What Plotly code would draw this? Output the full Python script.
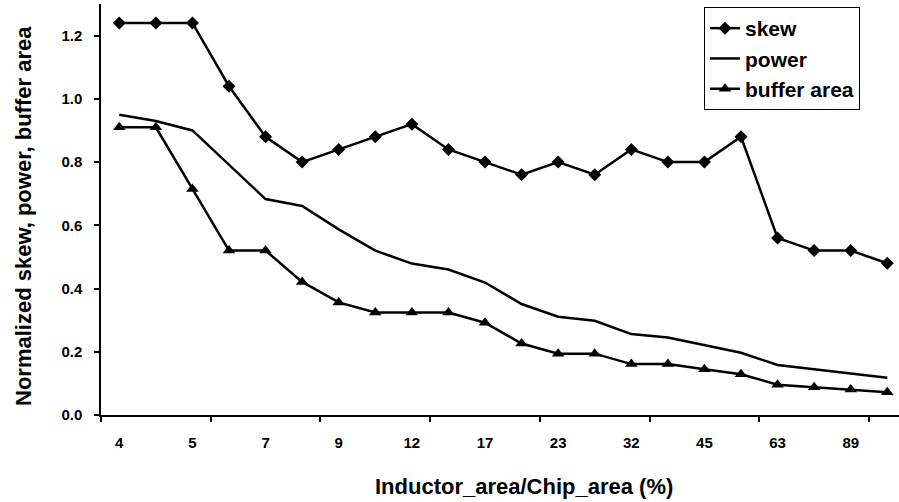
import plotly.graph_objects as go

# ---- data ----
x_labels = ["4", "5", "7", "9", "12", "17", "23", "32", "45", "63", "89"]

skew = [1.24, 1.24, 1.24, 1.04, 0.88, 0.80, 0.84, 0.88, 0.92, 0.84, 0.80,
        0.76, 0.80, 0.76, 0.84, 0.80, 0.80, 0.88, 0.56, 0.52, 0.52, 0.48]
power = [0.95, 0.93, 0.90, 0.79, 0.683, 0.661, 0.587, 0.52, 0.479, 0.46, 0.419,
         0.351, 0.311, 0.298, 0.256, 0.245, 0.221, 0.197, 0.158, 0.144, 0.130, 0.118]
buffer_area = [0.91, 0.91, 0.715, 0.52, 0.52, 0.421, 0.356, 0.324, 0.324, 0.324, 0.292,
               0.226, 0.194, 0.194, 0.161, 0.161, 0.145, 0.129, 0.096, 0.088, 0.081, 0.072]

y_ticks = [0.0, 0.2, 0.4, 0.6, 0.8, 1.0, 1.2]

x = list(range(len(skew)))
label_pos = x[::2][:len(x_labels)]
tick_marks = [i - 0.5 for i in range(0, len(skew), 3)]

FONT = "Liberation Sans"

fig = go.Figure()
fig.add_trace(go.Scatter(
    x=x, y=skew, name="skew", mode="lines+markers",
    line=dict(color="black", width=2.5),
    marker=dict(symbol="diamond", size=10, color="black"),
    legendgroup="a", cliponaxis=False))
fig.add_trace(go.Scatter(
    x=x, y=power, name="power", mode="lines",
    line=dict(color="black", width=2.5),
    legendgroup="b", cliponaxis=False))
fig.add_trace(go.Scatter(
    x=x, y=buffer_area, name="buffer area", mode="lines+markers",
    line=dict(color="black", width=2.5),
    marker=dict(symbol="triangle-up", size=11, color="black"),
    legendgroup="c", cliponaxis=False))

fig.update_layout(
    width=899, height=502,
    margin=dict(l=101, r=0, t=4, b=87),
    plot_bgcolor="white", paper_bgcolor="white",
    font=dict(family=FONT, color="black"),
    showlegend=True,
    legend=dict(
        x=(704 - 101) / 798, y=(415 - 7) / 411, xanchor="left", yanchor="top",
        bordercolor="black", borderwidth=1, bgcolor="white",
        font=dict(family=FONT, size=21, color="black", weight="bold"),
        tracegroupgap=0, itemwidth=30, entrywidth=178,
    ),
    xaxis=dict(
        range=[-0.5, 21.32],
        showline=True, linecolor="black", linewidth=1.5,
        showgrid=False, zeroline=False,
        tickmode="array", tickvals=label_pos, ticktext=x_labels,
        ticks="", ticklabelstandoff=13,
        tickfont=dict(family=FONT, size=15, color="black", weight="bold"),
        minor=dict(tickmode="array", tickvals=tick_marks, ticks="outside",
                   ticklen=5, tickwidth=1.5, tickcolor="black", showgrid=False),
    ),
    yaxis=dict(
        range=[0, 1.3],
        showline=True, linecolor="black", linewidth=1.5,
        showgrid=False, zeroline=False,
        tickmode="array", tickvals=y_ticks, tickformat=".1f",
        ticks="outside", ticklen=5, tickwidth=1.5, tickcolor="black",
        ticklabelstandoff=9,
        tickfont=dict(family=FONT, size=15, color="black", weight="bold"),
    ),
    annotations=[
        dict(text="Inductor_area/Chip_area (%)", xref="paper", yref="paper",
             x=(523.5 - 101) / 798, y=(415 - 486) / 411,
             xanchor="center", yanchor="middle", showarrow=False,
             font=dict(family=FONT, size=22, color="black", weight="bold")),
        dict(text="Normalized skew, power, buffer area", xref="paper", yref="paper",
             x=(23 - 101) / 798, y=(415 - 216) / 411, textangle=-90,
             xanchor="center", yanchor="middle", showarrow=False,
             font=dict(family=FONT, size=22, color="black", weight="bold")),
    ],
)

fig.write_html("out.html", config={"displayModeBar": False},
               post_script="document.body.style.margin='0';")
